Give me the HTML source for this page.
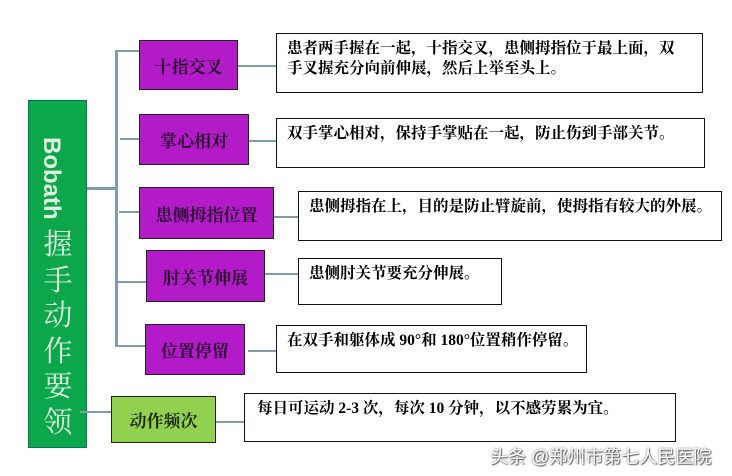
<!DOCTYPE html>
<html><head><meta charset="utf-8"><style>
body{margin:0;width:732px;height:476px;background:#fff;position:relative;overflow:hidden;font-family:"Liberation Serif","Noto Serif CJK SC",serif;}
.b{position:absolute;box-sizing:border-box;}
.p{background:#b31bc9;border:1.5px solid #222;color:#2a0530;font-weight:bold;font-size:17px;display:flex;align-items:center;justify-content:center;}
.t{background:#fff;border:1.5px solid #111;font-size:15.5px;font-weight:bold;line-height:20px;padding:5px 0 0 10px;color:#000;}
.l{position:absolute;background:#7f9cac;}
</style></head><body>
<div class="b" style="left:28px;top:100px;width:59px;height:348px;background:#0ca64b;border:1px solid #075;color:#dff5e0;">
 <div style="position:absolute;left:8px;top:36px;font-family:'Liberation Sans',sans-serif;font-weight:bold;font-size:24px;writing-mode:vertical-rl;">Bobath</div>
 <div style="position:absolute;left:11px;top:127px;font-size:29px;line-height:35.5px;width:36px;text-align:center;">握<br>手<br>动<br>作<br>要<br>领</div>
</div>
<div class="l" style="left:115px;top:50px;width:3px;height:297px"></div>
<div class="l" style="left:87px;top:187px;width:30px;height:3px"></div>
<div class="l" style="left:115px;top:50px;width:25px;height:2px"></div>
<div class="l" style="left:120px;top:138px;width:19px;height:2px"></div>
<div class="l" style="left:119px;top:211px;width:20px;height:2px"></div>
<div class="l" style="left:117px;top:281px;width:29px;height:2px"></div>
<div class="l" style="left:115px;top:345px;width:30px;height:2px"></div>
<div class="l" style="left:80px;top:411px;width:31px;height:2px"></div>
<div class="l" style="left:238px;top:65px;width:38px;height:2px"></div>
<div class="l" style="left:249px;top:140px;width:27px;height:2px"></div>
<div class="l" style="left:274px;top:216px;width:24px;height:2px"></div>
<div class="l" style="left:265px;top:273px;width:33px;height:2px"></div>
<div class="l" style="left:248px;top:350px;width:28px;height:2px"></div>
<div class="l" style="left:216px;top:421px;width:28px;height:2px"></div>
<div class="b p" style="left:139px;top:40px;width:99px;height:50px">十指交叉</div>
<div class="b p" style="left:139px;top:114px;width:110px;height:51px">掌心相对</div>
<div class="b p" style="left:139px;top:187px;width:135px;height:52px">患侧拇指位置</div>
<div class="b p" style="left:146px;top:250px;width:119px;height:52px">肘关节伸展</div>
<div class="b p" style="left:145px;top:324px;width:100px;height:51px">位置停留</div>
<div class="b p" style="left:111px;top:396px;width:105px;height:47px;background:#92d050;color:#1a2a0a">动作频次</div>
<div class="b t" style="left:276px;top:33px;width:427px;height:60px">患者两手握在一起，十指交叉，患侧拇指位于最上面，双<br>手叉握充分向前伸展，然后上举至头上。</div>
<div class="b t" style="left:276px;top:118px;width:429px;height:50px">双手掌心相对，保持手掌贴在一起，防止伤到手部关节。</div>
<div class="b t" style="left:298px;top:191px;width:424px;height:50px">患侧拇指在上，目的是防止臂旋前，使拇指有较大的外展。</div>
<div class="b t" style="left:298px;top:258px;width:204px;height:47px">患侧肘关节要充分伸展。</div>
<div class="b t" style="left:276px;top:325px;width:311px;height:48px">在双手和躯体成 90°和 180°位置稍作停留。</div>
<div class="b t" style="left:244px;top:393px;width:432px;height:49px;padding-left:12px">每日可运动 2-3 次，每次 10 分钟，以不感劳累为宜。</div>
<div class="b" style="left:490px;top:443px;font-family:'Liberation Sans','Noto Sans CJK SC',sans-serif;font-size:18px;color:#fff;text-shadow:0 0 2px #555,1px 1px 1px #666;white-space:nowrap">头条 @郑州市第七人民医院</div>
</body></html>
